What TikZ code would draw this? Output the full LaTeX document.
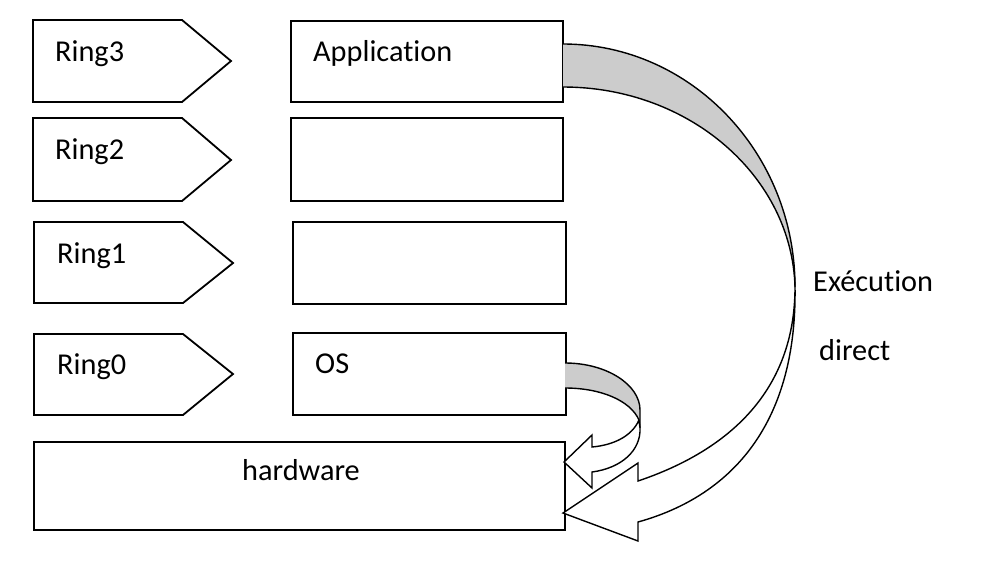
\documentclass[tikz,border=0pt]{standalone}
\usepackage{fontspec}
\setmainfont[Ligatures=NoCommon]{Carlito}
\begin{document}
\begin{tikzpicture}[x=1pt,y=-1pt,
  boxline/.style={draw=black,line width=1.8pt},
  rbox/.style={boxline,rectangle,inner sep=0pt,outer sep=0pt},
  txt/.style={inner sep=0pt,anchor=base west,font=\fontsize{30.3}{36}\selectfont},
  arrline/.style={draw=black,line width=1.4pt,line join=miter},
  band/.style={fill=bandgray}]
\definecolor{bandgray}{RGB}{204,204,204}
\useasboundingbox (0,0) rectangle (981,560);
% ring pentagons
\draw[boxline] (33,20) -- (182,20) -- (231,61) -- (182,102) -- (33,102) -- cycle;
\draw[boxline] (33,118) -- (182,118) -- (231,160) -- (182,201) -- (33,201) -- cycle;
\draw[boxline] (34,222) -- (183,222) -- (233,263) -- (183,303) -- (34,303) -- cycle;
\draw[boxline] (34,334) -- (183,334) -- (233,374) -- (183,415) -- (34,415) -- cycle;
\node[txt] (t3) at (55,61) {Ring3};
\node[txt] (t2) at (55,159) {Ring2};
\node[txt] (t1) at (57,263) {Ring1};
\node[txt] (t0) at (57,374) {Ring0};
% boxes
\node[rbox,minimum width=272pt,minimum height=81pt] (app) at (427,61.5) {};
\node[rbox,minimum width=272pt,minimum height=83pt] (r2) at (427,159.5) {};
\node[rbox,minimum width=273pt,minimum height=82pt] (r1) at (429.5,263) {};
\node[rbox,minimum width=273pt,minimum height=82pt] (os) at (429.5,374) {};
\node[rbox,minimum width=531pt,minimum height=88pt] (hw) at (299.5,486) {};
\node[txt] (tapp) at (313,61) {Application};
\node[txt] (tos) at (315,373) {OS};
\node[txt] (thw) at (242,480) {hardware};
\node[txt] (tex) at (813,291) {Exécution};
\node[txt] (tdi) at (819,360) {direct};
% big curved arrow
\coordinate (a1) at (563,44);
\coordinate (a2) at (563,87);
\coordinate (p) at (795,287);
\path[band] (a1) .. controls (691,44) and (795,153) .. (p)
  .. controls (792,177) and (690,87) .. (a2) -- cycle;
\draw[arrline] (a1) .. controls (691,44) and (795,153) .. (p);
\draw[arrline] (a2) .. controls (690,87) and (792,177) .. (p);
\coordinate (tipb) at (563,513);
\draw[arrline,fill=white] (p) .. controls (795,390) and (730,450) .. (638,481)
  -- (638,463) -- (tipb) -- (638,541) -- (638,522)
  .. controls (735,495) and (797,420) .. (p);
% small curved arrow
\coordinate (b1) at (565,363);
\coordinate (b2) at (565,388);
\coordinate (q) at (639,420);
\path[band] (b1) .. controls (607,363) and (640,385) .. (640,410) -- (640,422) -- (q)
  .. controls (630,400) and (600,388) .. (b2) -- cycle;
\draw[arrline] (b1) .. controls (607,363) and (640,385) .. (640,410) -- (640,428);
\draw[arrline] (b2) .. controls (600,388) and (630,400) .. (q);
\coordinate (tips) at (564,462);
\draw[arrline,fill=white] (q) .. controls (632,436) and (614,445) .. (592,447)
  -- (592,435) -- (tips) -- (592,488) -- (592,472)
  .. controls (622,468) and (641,450) .. (640,428) -- (q);
\end{tikzpicture}
\end{document}
